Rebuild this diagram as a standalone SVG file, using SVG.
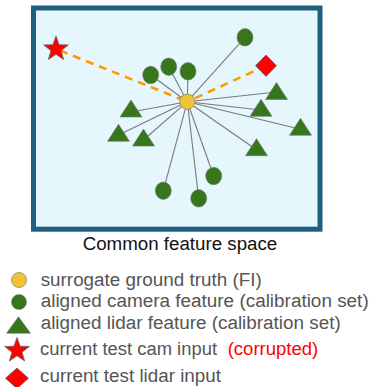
<svg xmlns="http://www.w3.org/2000/svg" width="371" height="387" viewBox="0 0 371 387">
<style>
.spoke{stroke:#7a7a7a;stroke-width:1.1;fill:none}
.dash{stroke:#ff9900;stroke-width:2.6;stroke-dasharray:8 6;fill:none}
.cam{fill:#38761d;stroke:#6b7a66;stroke-width:0.6}
.lid{fill:#38761d;stroke:#6b7a66;stroke-width:0.6}
.gt{fill:#f1c232;stroke:#8a8a70;stroke-width:0.8}
.bad{fill:#ff0000;stroke:#666;stroke-width:0.8}
.leg{font-family:"Liberation Sans",Arial,sans-serif;font-size:18px;fill:#555}
.title{font-family:"Liberation Sans",Arial,sans-serif;font-size:18px;fill:#111}
</style>
<defs>
<polygon id="tri" points="0,-11 11,6 -11,6"/>
<polygon id="star" points="0,-13 3.12,-4.29 12.36,-4.02 5.04,1.64 7.64,10.52 0,5.3 -7.64,10.52 -5.04,1.64 -12.36,-4.02 -3.12,-4.29"/>
<polygon id="diam" points="0,-10.7 10.5,0 0,10.7 -10.5,0"/>
</defs>
<g id="frame">
<rect x="33.5" y="8" width="286.5" height="221.2" fill="#e5f6fd" stroke="#1d6080" stroke-width="5"/>
</g>
<g id="connectors">
<line class="spoke" x1="187.3" y1="101.7" x2="245" y2="37.3"/>
<line class="spoke" x1="187.3" y1="101.7" x2="150.7" y2="75"/>
<line class="spoke" x1="187.3" y1="101.7" x2="168.7" y2="66.7"/>
<line class="spoke" x1="187.3" y1="101.7" x2="188" y2="71.3"/>
<line class="spoke" x1="187.3" y1="101.7" x2="163.3" y2="190.7"/>
<line class="spoke" x1="187.3" y1="101.7" x2="198.7" y2="198.3"/>
<line class="spoke" x1="187.3" y1="101.7" x2="213.7" y2="176"/>
<line class="spoke" x1="187.3" y1="101.7" x2="131" y2="112"/>
<line class="spoke" x1="187.3" y1="101.7" x2="118.5" y2="135"/>
<line class="spoke" x1="187.3" y1="101.7" x2="143.5" y2="140"/>
<line class="spoke" x1="187.3" y1="101.7" x2="276.5" y2="92"/>
<line class="spoke" x1="187.3" y1="101.7" x2="261" y2="110"/>
<line class="spoke" x1="187.3" y1="101.7" x2="300.5" y2="129.3"/>
<line class="spoke" x1="187.3" y1="101.7" x2="256.5" y2="149.7"/>
<line class="dash" x1="60" y1="50.5" x2="187.3" y2="101.7"/>
<line class="dash" x1="266" y1="65.7" x2="187.3" y2="101.7"/>
</g>
<g id="cam1"><ellipse class="cam" cx="245" cy="37.3" rx="8" ry="8.7"/></g>
<g id="cam2"><ellipse class="cam" cx="150.7" cy="75" rx="8" ry="8.7"/></g>
<g id="cam3"><ellipse class="cam" cx="168.7" cy="66.7" rx="8" ry="8.7"/></g>
<g id="cam4"><ellipse class="cam" cx="188" cy="71.3" rx="8" ry="8.7"/></g>
<g id="cam5"><ellipse class="cam" cx="163.3" cy="190.7" rx="8" ry="8.7"/></g>
<g id="cam6"><ellipse class="cam" cx="198.7" cy="198.3" rx="8" ry="8.7"/></g>
<g id="cam7"><ellipse class="cam" cx="213.7" cy="176" rx="8" ry="8.7"/></g>
<g id="lid1"><use href="#tri" class="lid" transform="translate(131,111)"/></g>
<g id="lid2"><use href="#tri" class="lid" transform="translate(118.5,135.3)"/></g>
<g id="lid3"><use href="#tri" class="lid" transform="translate(143.5,140)"/></g>
<g id="lid4"><use href="#tri" class="lid" transform="translate(276.5,93.5)"/></g>
<g id="lid5"><use href="#tri" class="lid" transform="translate(261,110.3)"/></g>
<g id="lid6"><use href="#tri" class="lid" transform="translate(300.5,129.3)"/></g>
<g id="lid7"><use href="#tri" class="lid" transform="translate(256.5,149.7)"/></g>
<g id="camInput"><use href="#star" class="bad" transform="translate(56,49)"/></g>
<g id="lidarInput"><use href="#diam" class="bad" transform="translate(266,65.7)"/></g>
<g id="surrogate"><circle class="gt" cx="187.3" cy="101.7" r="7.6"/></g>
<g id="title"><text class="title" x="82.7" y="250" textLength="194.6" lengthAdjust="spacingAndGlyphs">Common feature space</text></g>
<g id="legend">
<circle class="gt" cx="19" cy="280" r="7.5"/>
<text class="leg" x="40.7" y="285.5" textLength="221" lengthAdjust="spacingAndGlyphs">surrogate ground truth (FI)</text>
<circle class="cam" cx="19" cy="302" r="7.5"/>
<text class="leg" x="40.7" y="307" textLength="328" lengthAdjust="spacingAndGlyphs">aligned camera feature (calibration set)</text>
<polygon class="lid" points="18.5,316.7 30.5,333.3 6.5,333.3"/>
<text class="leg" x="40.7" y="328.5" textLength="300" lengthAdjust="spacingAndGlyphs">aligned lidar feature (calibration set)</text>
<use href="#star" class="bad" transform="translate(17,350.5)"/>
<text class="leg" x="40" y="355" textLength="177" lengthAdjust="spacingAndGlyphs">current test cam input</text>
<text class="leg" x="227.7" y="355" textLength="90.6" lengthAdjust="spacingAndGlyphs" style="fill:#ff0000">(corrupted)</text>
<polygon class="bad" points="17,368 28.5,378.3 17,388.6 5.5,378.3"/>
<text class="leg" x="40" y="382" textLength="181" lengthAdjust="spacingAndGlyphs">current test lidar input</text>
</g>
</svg>
